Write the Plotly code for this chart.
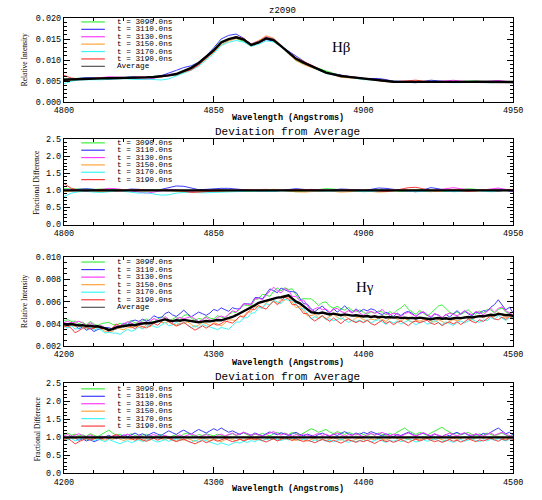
import numpy as np
import plotly.graph_objects as go

# ---------------------------------------------------------------------------
# Spectra of z2090 around H-beta and H-gamma at six epochs.
# Intensities are stored as the epoch average (units of 1e-5) plus the
# fractional deviation of each epoch from that average (in percent).
# ---------------------------------------------------------------------------
SCALE = 1e-5

EPOCHS = ["t = 3090.0ns", "t = 3110.0ns", "t = 3130.0ns",
          "t = 3150.0ns", "t = 3170.0ns", "t = 3190.0ns"]
COLORS = ["#3cf03c", "#3c3cff", "#ff3cff", "#ffa33c", "#3cf5f5", "#ff3c3c"]

# H-beta window: 4800-4950 A, 2.5 A sampling
HB_START, HB_STOP, HB_STEP = 4800.0, 4950.0, 2.5
HB_AVERAGE = [
    530, 540, 550, 555, 560, 565, 568, 570, 575, 578,
    582, 588, 598, 610, 635, 668, 735, 815, 930, 1070,
    1230, 1420, 1500, 1545, 1490, 1360, 1420, 1520, 1480, 1333,
    1170, 1030, 940, 860, 780, 700, 660, 620, 600, 580,
    555, 545, 525, 505, 485, 480, 478, 478, 480, 482,
    480, 482, 480, 478, 480, 482, 480, 478, 480, 478,
    476]
HB_DEV_3090 = [
    5, 4, 3, 2, 3, 4, 3, 1, 0, -1,
    0, 2, 3, 2, 0, -3, -4, -2, 0, 2,
    3, 2, 0, -2, -3, -2, -1, 0, 1, 0,
    -2, -4, -3, 0, 3, 5, 4, 1, -2, -3,
    -1, 2, 3, 1, -2, -3, -1, 2, 3, 1,
    -2, -3, 0, 3, 5, 3, 0, -2, -1, 1,
    2]
HB_DEV_3110 = [
    0, 2, 4, 5, 3, 0, -2, -1, 2, 4,
    3, 1, 0, 3, 8, 13, 12, 6, 2, 3,
    5, 6, 6, 5, 2, 0, -1, -2, -2, 0,
    3, 5, 3, 0, -2, -1, 2, 4, 3, 1,
    0, 3, 7, 6, 2, 0, -2, -4, 2, 8,
    5, 0, -2, 0, 2, 1, -1, 2, 4, 0,
    -4]
HB_DEV_3130 = [
    2, 3, 1, -2, -1, 3, 6, 5, 2, -2,
    -6, -8, -5, 0, 3, 1, -2, -3, -1, 1,
    2, 1, 0, 0, 1, 2, 3, 3, 2, 0,
    -1, 0, 2, 3, 2, 0, -1, 0, 2, 1,
    -1, -2, 0, 2, 3, 1, -1, -2, -3, -1,
    2, 5, 8, 5, 1, -1, 1, 5, 7, 3,
    -2]
HB_DEV_3150 = [
    -3, -2, -1, 0, -2, -4, -3, 0, 2, 1,
    -1, -2, 0, 2, 0, -3, -5, -6, -4, -3,
    -4, -4, -3, -2, 0, 1, 3, 4, 3, 1,
    -2, -4, -5, -4, -2, -1, -3, -5, -4, -2,
    -1, -3, -5, -4, -1, 1, 2, 0, -3, -4,
    -2, 1, 3, 2, -1, -2, 0, 2, 1, -1,
    0]
HB_DEV_3170 = [
    -18, -8, -4, -3, -5, -6, -4, -2, -3, -6,
    -8, -7, -10, -14, -13, -8, -6, -7, -8, -7,
    -6, -5, -5, -5, -4, -2, -3, -4, -3, -1,
    0, 1, 0, -1, -2, -3, -2, -1, 0, -2,
    -4, -3, -1, 0, 1, 0, -2, -4, -3, -1,
    0, -2, -4, -3, -1, 0, -2, -4, -3, -1,
    3]
HB_DEV_3190 = [
    20, 6, 0, -2, 1, 3, 1, -2, -1, 2,
    3, 1, 0, -2, -1, 1, -2, -6, -5, -3,
    -2, -1, 0, 1, 2, 1, -1, -1, 0, 0,
    1, 2, 3, 2, 1, 0, 0, 1, 1, 2,
    3, 1, -2, -3, -1, 3, 8, 9, 4, 0,
    -1, 0, 1, -1, -3, -1, 2, 1, -2, 1,
    3]

# H-gamma window: 4200-4500 A, 2.5 A sampling
HG_START, HG_STOP, HG_STEP = 4200.0, 4500.0, 2.5
HG_AVERAGE = [
    395, 392, 398, 390, 385, 388, 380, 383, 376, 378, 372, 360, 345, 352, 368, 372, 380, 385, 392, 388,
    398, 402, 408, 405, 415, 420, 432, 440, 430, 425, 432, 428, 436, 432, 425, 418, 415, 420, 425, 422,
    428, 435, 432, 440, 450, 462, 478, 495, 510, 528, 545, 568, 590, 600, 612, 622, 630, 636, 640, 648,
    658, 628, 600, 585, 560, 530, 505, 500, 495, 502, 490, 485, 492, 482, 478, 485, 480, 474, 478, 470,
    466, 470, 462, 468, 460, 465, 458, 462, 456, 460, 452, 456, 450, 454, 448, 456, 452, 446, 442, 448,
    452, 446, 450, 444, 448, 455, 452, 460, 462, 458, 465, 470, 468, 475, 482, 478, 490, 485, 478, 482,
    470]
HG_DEV_3090 = [
    8, 12, 6, 9, 4, 7, 3, 10, 6, 2, 8, 14, 20, 12, 6, 9, 3, 7, 10, 5,
    2, 6, 9, 4, 0, 5, 8, 3, -2, 4, 7, 2, 9, 12, 6, 3, 8, 5, 10, 7,
    4, 9, 6, 2, 7, 10, 5, 8, 12, 7, 3, 9, 6, 11, 8, 4, 10, 14, 9, 12,
    8, 14, 10, 6, 12, 18, 24, 20, 14, 18, 22, 15, 10, 16, 12, 8, 14, 10, 6, 12,
    8, 4, 10, 6, 12, 9, 5, 11, 7, 14, 20, 26, 18, 12, 8, 14, 10, 6, 12, 18,
    24, 28, 20, 14, 9, 12, 7, 10, 14, 8, 5, 10, 6, 12, 9, 4, 8, 12, 6, 3,
    7]
HG_DEV_3110 = [
    2, -3, 4, -2, -8, -4, -10, -6, -12, -8, -3, 2, 6, 0, -4, 3, 7, 2, 8, 12,
    6, 10, 4, 8, 14, 9, 5, 12, 18, 13, 8, 15, 20, 14, 9, 16, 22, 17, 12, 18,
    24, 19, 26, 20, 14, 18, 12, 8, 14, 10, 6, 12, 8, 4, 10, 15, 11, 7, 13, 9,
    5, 10, 14, 8, 4, 9, 6, 2, 8, 12, 7, 3, 9, 5, 11, 16, 10, 6, 12, 8,
    14, 10, 16, 12, 8, 4, 10, 6, 2, 8, 5, 10, 14, 9, 4, 8, 12, 7, 3, 9,
    6, 2, 8, 4, 10, 14, 8, 12, 6, 3, 9, 5, 11, 8, 14, 20, 26, 18, 10, 14,
    6]
HG_DEV_3130 = [
    4, 8, 2, 6, 10, 5, 1, 7, 3, -2, 4, 0, -4, 2, 6, 1, 5, 9, 4, 0,
    5, 2, -2, 4, 8, 3, 0, 6, 2, -3, 3, 7, 2, 5, 10, 6, 1, 4, 8, 3,
    0, 5, 9, 4, 8, 12, 6, 10, 14, 9, 5, 10, 7, 3, 8, 12, 16, 10, 6, 11,
    7, 3, 8, 4, 10, 6, 2, 7, 11, 5, 9, 4, 8, 12, 7, 3, 8, 5, 10, 6,
    2, 7, 11, 6, 10, 14, 8, 4, 9, 6, 3, 8, 12, 7, 4, 9, 13, 8, 5, 10,
    6, 2, 7, 12, 8, 4, 9, 13, 8, 5, 10, 7, 3, 8, 12, 6, 10, 14, 8, 4,
    2]
HG_DEV_3150 = [
    -2, -6, -1, -4, 2, -3, -7, -2, -5, 0, -4, -8, -3, -6, -1, -5, -9, -4, -7, -2,
    -6, -10, -4, -8, -3, 1, -4, -7, -2, -6, -10, -5, -8, -3, -7, -11, -6, -2, -5, -9,
    -4, -8, -12, -7, -3, -6, -10, -5, -8, -4, -7, -2, -5, -9, -4, -1, -5, -8, -3, -6,
    -2, -6, -9, -4, -7, -11, -6, -3, -8, -5, -9, -4, -1, -5, -8, -3, -6, -10, -5, -2,
    -6, -9, -4, -7, -2, -5, -8, -3, 1, -3, -6, -2, -5, -9, -4, -7, -3, 0, -4, -7,
    -3, -6, -10, -5, -2, -6, -3, 1, -2, -5, -1, 2, -3, 0, -4, -1, 3, -2, -5, -1,
    -4]
HG_DEV_3170 = [
    -4, -8, -3, -10, -6, -2, -7, -4, -9, -5, -8, -12, -6, -10, -14, -18, -13, -9, -15, -11,
    -7, -12, -8, -4, -9, -13, -10, -6, -11, -8, -4, -9, -5, -10, -14, -8, -12, -6, -10, -13,
    -16, -20, -15, -18, -22, -17, -13, -16, -11, -14, -9, -12, -7, -10, -5, -8, -3, -6, -9, -4,
    -7, -2, -5, -9, -4, -8, -12, -7, -10, -6, -11, -8, -13, -9, -5, -10, -14, -9, -12, -8,
    -11, -7, -12, -9, -5, -10, -14, -8, -11, -7, -12, -9, -4, -8, -13, -10, -6, -11, -8, -4,
    -9, -12, -7, -10, -14, -9, -6, -11, -8, -4, -9, -12, -7, -10, -5, -8, -3, -7, -10, -6,
    -2]
HG_DEV_3190 = [
    -6, -2, -10, -18, -12, -7, -3, -8, -4, 0, -5, 2, -3, 4, 8, 3, -2, 1, -4, -8,
    -3, -7, -11, -6, -2, -8, -4, 2, -3, -7, -12, -8, -5, -10, -14, -18, -13, -9, -15, -10,
    -6, -11, -7, -3, -8, -12, -9, -5, -10, -6, -2, -7, -4, -9, -13, -8, -4, -10, -6, -1,
    -5, -9, -4, -8, -12, -7, -11, -15, -10, -6, -9, -13, -8, -12, -16, -11, -7, -10, -14, -9,
    -12, -8, -13, -17, -11, -7, -12, -9, -14, -10, -6, -11, -15, -9, -5, -10, -7, -3, -8, -12,
    -9, -14, -10, -6, -11, -8, -13, -9, -4, -8, -12, -7, -10, -6, -2, -7, -11, -5, -8, -3,
    -6]

HB_DEVS = [HB_DEV_3090, HB_DEV_3110, HB_DEV_3130, HB_DEV_3150, HB_DEV_3170, HB_DEV_3190]
HG_DEVS = [HG_DEV_3090, HG_DEV_3110, HG_DEV_3130, HG_DEV_3150, HG_DEV_3170, HG_DEV_3190]

# ---------------------------------------------------------------------------
W, H = 542, 500
MONO = "Liberation Mono"
SERIF = "Liberation Serif"

# plot frames in pixels: (left, right, top, bottom)
LEFT, RIGHT = 56, 522.5
FRAMES = [(14.5, 100), (138, 225), (258.5, 349), (387, 479)]


def px(x):
    return x / W


def py(y):
    return 1 - y / H


fig = go.Figure()


def add_panel(idx, wave, average, devs, fractional):
    xa = "x" if idx == 1 else f"x{idx}"
    ya = "y" if idx == 1 else f"y{idx}"
    avg = np.asarray(average, dtype=float) * SCALE
    for dev, color, name in zip(devs, COLORS, EPOCHS):
        ratio = 1.0 + np.asarray(dev, dtype=float) / 100.0
        yv = ratio if fractional else avg * ratio
        fig.add_trace(go.Scatter(x=wave, y=yv, mode="lines", name=name,
                                 line=dict(color=color, width=1),
                                 xaxis=xa, yaxis=ya, showlegend=False,
                                 hoverinfo="skip"))
    yref = np.ones_like(avg) if fractional else avg
    fig.add_trace(go.Scatter(x=wave, y=yref, mode="lines", name="Average",
                             line=dict(color="black", width=2.4),
                             xaxis=xa, yaxis=ya, showlegend=False,
                             hoverinfo="skip"))


hb_wave = np.arange(HB_START, HB_STOP + HB_STEP / 2, HB_STEP)
hg_wave = np.arange(HG_START, HG_STOP + HG_STEP / 2, HG_STEP)

add_panel(1, hb_wave, HB_AVERAGE, HB_DEVS, False)
add_panel(2, hb_wave, HB_AVERAGE, HB_DEVS, True)
add_panel(3, hg_wave, HG_AVERAGE, HG_DEVS, False)
add_panel(4, hg_wave, HG_AVERAGE, HG_DEVS, True)

axis_common = dict(showline=True, linecolor="black", linewidth=1, mirror="ticks",
                   ticks="inside", ticklen=6, tickwidth=1, tickcolor="black",
                   showgrid=False, zeroline=False,
                   tickfont=dict(family=MONO, size=8.5, color="black"))

panel_axes = [
    # (x range, x dtick, x minor, y range, y dtick, y minor, y format)
    ([4800, 4950], 50, 10, [0, 0.020], 0.005, 0.001, ".3f"),
    ([4800, 4950], 50, 10, [0, 2.5], 0.5, 0.1, ".1f"),
    ([4200, 4500], 100, 20, [0.002, 0.010], 0.002, 0.0005, ".3f"),
    ([4200, 4500], 100, 20, [0, 2.5], 0.5, 0.1, ".1f"),
]

layout_axes = {}
for i, ((top, bottom), (xr, xdt, xmin, yr, ydt, ymin, yfmt)) in enumerate(zip(FRAMES, panel_axes), start=1):
    sfx = "" if i == 1 else str(i)
    layout_axes[f"xaxis{sfx}"] = dict(
        axis_common, domain=[px(LEFT), px(RIGHT)], range=xr, dtick=xdt, tick0=xr[0],
        anchor=f"y{sfx}", tickformat="d",
        minor=dict(dtick=xmin, ticks="inside", ticklen=3, tickcolor="black", showgrid=False))
    layout_axes[f"yaxis{sfx}"] = dict(
        axis_common, domain=[py(bottom), py(top)], range=yr, dtick=ydt, tick0=yr[0],
        anchor=f"x{sfx}", tickformat=yfmt,
        minor=dict(dtick=ymin, ticks="inside", ticklen=3, tickcolor="black", showgrid=False))

annotations = []
shapes = []


def text(x, y, s, size, family=MONO, angle=0, xanchor="center", color="black"):
    annotations.append(dict(x=px(x), y=py(y), xref="paper", yref="paper", text=s,
                            showarrow=False, xanchor=xanchor, yanchor="middle",
                            textangle=angle, font=dict(family=family, size=size, color=color)))


# titles
text(283, 7, "z2090", 9)
text(288.5, 131, "Deviation from Average", 11)
text(288.5, 381, "Deviation from Average", 11)

# x axis titles
text(289, 116.5, "<b>Wavelength (Angstroms)</b>", 8.5)
text(289, 366, "<b>Wavelength (Angstroms)</b>", 8.5)
text(289, 495, "<b>Wavelength (Angstroms)</b>", 8.5)

# y axis titles
text(15, 57, "Relative Intensity", 7.5, SERIF, -90)
text(28, 181.5, "Fractional Difference", 7.5, SERIF, -90)
text(15, 303.5, "Relative Intensity", 7.5, SERIF, -90)
text(28, 433, "Fractional Difference", 7.5, SERIF, -90)

# line identifications
text(344, 44, "Hβ", 15, SERIF)
text(369, 289, "Hγ", 15, SERIF)

# in-frame legends: (first row y, row spacing, include average)
legend_rows = [(18.3, 7.55, True), (141.7, 7.5, False), (263.3, 7.7, True), (392.7, 7.6, False)]
for y0, dy, with_avg in legend_rows:
    entries = list(zip(EPOCHS, COLORS))
    if with_avg:
        entries.append(("Average", "#555555"))
    for k, (label, color) in enumerate(entries):
        yk = y0 + k * dy
        shapes.append(dict(type="line", xref="paper", yref="paper",
                           x0=px(74), x1=px(98.5), y0=py(yk), y1=py(yk),
                           line=dict(color=color, width=1.2)))
        text(109, yk, label, 7.7, MONO, xanchor="left")

fig.update_layout(
    width=W, height=H, margin=dict(l=0, r=0, t=0, b=0),
    paper_bgcolor="white", plot_bgcolor="white",
    showlegend=False, annotations=annotations, shapes=shapes,
    **layout_axes)

fig.write_html("out.html")
